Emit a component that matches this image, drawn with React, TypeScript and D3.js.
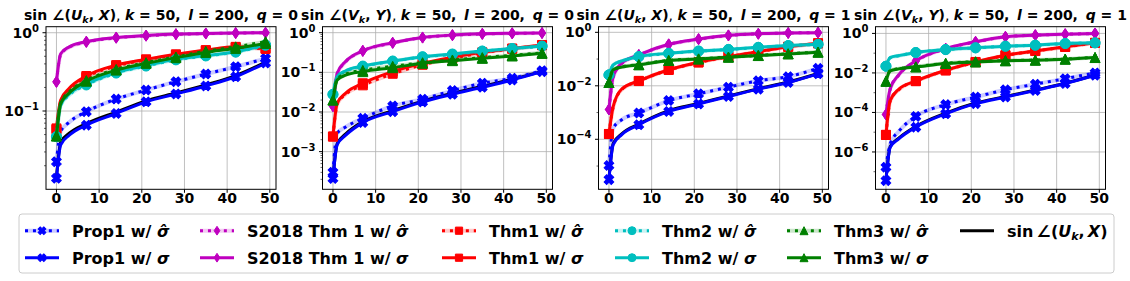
import React from 'react';
import * as d3 from 'd3';

// sample positions along the x axis (iteration index) and where markers go
const kSteps = [0, 1, 3, 7, 14, 21, 28, 35, 42, 49];
const markSteps = [0, 7, 14, 21, 28, 35, 42, 49];
const xTicks = [0, 10, 20, 30, 40, 50];

// panel 1: sin(U_k, X), q = 0
const p1Prop1Hat = [0.0225, 0.055, 0.072, 0.098, 0.142, 0.185, 0.237, 0.297, 0.368, 0.47];
const p1Prop1 = [0.0138, 0.037, 0.049, 0.066, 0.093, 0.131, 0.165, 0.209, 0.274, 0.41];
const p1S2018Hat = [0.235, 0.53, 0.65, 0.76, 0.86, 0.915, 0.955, 0.975, 0.99, 1.0];
const p1S2018 = [0.237, 0.54, 0.66, 0.77, 0.87, 0.92, 0.96, 0.98, 0.99, 1.0];
const p1Thm1Hat = [0.058, 0.13, 0.185, 0.27, 0.375, 0.45, 0.52, 0.59, 0.65, 0.62];
const p1Thm1 = [0.06, 0.138, 0.195, 0.28, 0.386, 0.457, 0.53, 0.6, 0.66, 0.63];
const p1Thm2Hat = [0.047, 0.118, 0.16, 0.215, 0.305, 0.375, 0.45, 0.505, 0.565, 0.69];
const p1Thm2 = [0.047, 0.12, 0.165, 0.22, 0.31, 0.38, 0.457, 0.51, 0.57, 0.7];
const p1Thm3Hat = [0.048, 0.127, 0.175, 0.245, 0.34, 0.415, 0.49, 0.58, 0.66, 0.77];
const p1Thm3 = [0.048, 0.125, 0.17, 0.24, 0.333, 0.406, 0.48, 0.56, 0.63, 0.73];
const p1Sin = [0.0142, 0.04, 0.052, 0.069, 0.097, 0.135, 0.17, 0.216, 0.283, 0.42];

// panel 2: sin(V_k, Y), q = 0
const p2Prop1Hat = [0.0003, 0.0029, 0.0042, 0.0069, 0.0142, 0.021, 0.0346, 0.053, 0.071, 0.11];
const p2Prop1 = [0.00021, 0.0015, 0.0026, 0.0054, 0.0102, 0.018, 0.028, 0.042, 0.064, 0.104];
const p2S2018Hat = [0.014, 0.092, 0.185, 0.345, 0.55, 0.75, 0.86, 0.93, 0.96, 0.98];
const p2S2018 = [0.014, 0.094, 0.19, 0.35, 0.56, 0.76, 0.87, 0.94, 0.97, 0.98];
const p2Thm1Hat = [0.0024, 0.016, 0.028, 0.047, 0.092, 0.155, 0.225, 0.31, 0.39, 0.48];
const p2Thm1 = [0.0024, 0.0166, 0.03, 0.053, 0.104, 0.169, 0.239, 0.32, 0.4, 0.49];
const p2Thm2Hat = [0.0275, 0.076, 0.107, 0.14, 0.19, 0.243, 0.285, 0.34, 0.395, 0.455];
const p2Thm2 = [0.0279, 0.078, 0.11, 0.144, 0.193, 0.248, 0.29, 0.345, 0.4, 0.46];
const p2Thm3Hat = [0.02, 0.068, 0.09, 0.112, 0.142, 0.175, 0.205, 0.235, 0.27, 0.31];
const p2Thm3 = [0.02, 0.064, 0.085, 0.104, 0.131, 0.169, 0.197, 0.225, 0.258, 0.3];
const p2Sin = [0.00022, 0.0016, 0.0028, 0.0057, 0.0108, 0.0188, 0.0295, 0.0445, 0.067, 0.106];

// panel 3: sin(U_k, X), q = 1
const p3Prop1Hat = [1.05e-5, 2.6e-4, 5.4e-4, 9.6e-4, 0.0028, 0.005, 0.0089, 0.0154, 0.022, 0.045];
const p3Prop1 = [3.1e-6, 6.3e-5, 1.5e-4, 3.5e-4, 0.0011, 0.0021, 0.004, 0.0075, 0.0133, 0.028];
const p3S2018Hat = [0.0013, 0.021, 0.068, 0.14, 0.35, 0.55, 0.76, 0.88, 0.94, 0.97];
const p3S2018 = [0.0013, 0.022, 0.07, 0.143, 0.357, 0.56, 0.77, 0.89, 0.95, 0.97];
const p3Thm1Hat = [0.000158, 0.0016, 0.0072, 0.015, 0.039, 0.074, 0.122, 0.188, 0.285, 0.385];
const p3Thm1 = [0.000158, 0.0017, 0.0076, 0.0153, 0.04, 0.076, 0.124, 0.19, 0.29, 0.39];
const p3Thm2Hat = [0.0255, 0.06, 0.084, 0.122, 0.163, 0.198, 0.228, 0.273, 0.317, 0.353];
const p3Thm2 = [0.0257, 0.061, 0.085, 0.124, 0.165, 0.2, 0.23, 0.276, 0.32, 0.357];
const p3Thm3Hat = [0.0133, 0.041, 0.051, 0.062, 0.089, 0.102, 0.119, 0.137, 0.158, 0.182];
const p3Thm3 = [0.0133, 0.04, 0.05, 0.061, 0.088, 0.1, 0.117, 0.135, 0.156, 0.18];
const p3Sin = [3.3e-6, 7e-5, 1.6e-4, 3.7e-4, 0.00118, 0.0022, 0.0042, 0.0078, 0.0138, 0.029];

// panel 4: sin(V_k, Y), q = 1
const p4Prop1Hat = [1.7e-7, 2.6e-6, 1.1e-5, 6.3e-5, 2.5e-4, 6e-4, 0.0014, 0.0027, 0.0051, 0.01];
const p4Prop1 = [3.5e-8, 1.7e-6, 4.6e-6, 1.8e-5, 8.5e-5, 2.8e-4, 6e-4, 0.0013, 0.0029, 0.0076];
const p4S2018Hat = [7.9e-5, 1.5e-3, 0.0078, 0.04, 0.165, 0.37, 0.67, 0.81, 0.91, 0.99];
const p4S2018 = [7.9e-5, 1.6e-3, 0.008, 0.041, 0.17, 0.38, 0.68, 0.82, 0.92, 1.0];
const p4Thm1Hat = [7.3e-6, 3.8e-4, 0.0014, 0.0038, 0.0133, 0.035, 0.077, 0.128, 0.205, 0.33];
const p4Thm1 = [7.3e-6, 4e-4, 0.0015, 0.0039, 0.0137, 0.036, 0.079, 0.13, 0.21, 0.335];
const p4Thm2Hat = [0.0218, 0.059, 0.074, 0.107, 0.151, 0.185, 0.224, 0.252, 0.306, 0.331];
const p4Thm2 = [0.022, 0.06, 0.075, 0.108, 0.153, 0.187, 0.227, 0.255, 0.31, 0.335];
const p4Thm3Hat = [0.0038, 0.013, 0.0165, 0.0205, 0.031, 0.037, 0.042, 0.045, 0.0505, 0.061];
const p4Thm3 = [0.0038, 0.0126, 0.016, 0.02, 0.03, 0.036, 0.041, 0.044, 0.0495, 0.06];
const p4Sin = [4e-8, 1.9e-6, 5e-6, 1.95e-5, 9.2e-5, 3e-4, 6.4e-4, 0.00138, 0.003, 0.0079];

const methodNames = ['Prop1', 'S2018 Thm 1', 'Thm1', 'Thm2', 'Thm3'];
const methodColors = ['#0000ff', '#bf00bf', '#ff0000', '#00bfbf', '#008000'];
const methodMarkers = ['X', 'd', 's', 'o', '^'];

const FONT = 'DejaVu Sans, sans-serif';
const W = 1130;
const H = 281;
const plotTop = 26.7;
const plotBottom = 189.3;
const plotW = 230;

const panels = [
  { left: 46, sub: 'U', mat: 'X', q: 0, yExp: [-2.0, 0.077], major: [-1, 0], minorDecades: [-2, -1], minorExps: [],
    series: [[p1Prop1Hat, p1Prop1], [p1S2018Hat, p1S2018], [p1Thm1Hat, p1Thm1], [p1Thm2Hat, p1Thm2], [p1Thm3Hat, p1Thm3]], sin: p1Sin },
  { left: 322.5, sub: 'V', mat: 'Y', q: 0, yExp: [-3.95, 0.151], major: [-3, -2, -1, 0], minorDecades: [-4, -3, -2, -1], minorExps: [],
    series: [[p2Prop1Hat, p2Prop1], [p2S2018Hat, p2S2018], [p2Thm1Hat, p2Thm1], [p2Thm2Hat, p2Thm2], [p2Thm3Hat, p2Thm3]], sin: p2Sin },
  { left: 598.5, sub: 'U', mat: 'X', q: 1, yExp: [-5.87, 0.21], major: [-4, -2, 0], minorDecades: [], minorExps: [-5, -3, -1],
    series: [[p3Prop1Hat, p3Prop1], [p3S2018Hat, p3S2018], [p3Thm1Hat, p3Thm1], [p3Thm2Hat, p3Thm2], [p3Thm3Hat, p3Thm3]], sin: p3Sin },
  { left: 875.5, sub: 'V', mat: 'Y', q: 1, yExp: [-7.89, 0.34], major: [-6, -4, -2, 0], minorDecades: [], minorExps: [-7, -5, -3, -1],
    series: [[p4Prop1Hat, p4Prop1], [p4S2018Hat, p4S2018], [p4Thm1Hat, p4Thm1], [p4Thm2Hat, p4Thm2], [p4Thm3Hat, p4Thm3]], sin: p4Sin },
];

const markerPath = (kind: string, s: number) => {
  const h = s / 2;
  if (kind === 'X') {
    const a = h * 0.36;
    // plus shape, rotated 45deg when drawn
    return `M${-a},${-h}H${a}V${-a}H${h}V${a}H${a}V${h}H${-a}V${a}H${-h}V${-a}H${-a}Z`;
  }
  if (kind === 'd') return `M0,${-h * 1.1}L${h * 0.72},0L0,${h * 1.1}L${-h * 0.72},0Z`;
  if (kind === 's') return `M${-h * 0.9},${-h * 0.9}H${h * 0.9}V${h * 0.9}H${-h * 0.9}Z`;
  if (kind === '^') return `M0,${-h}L${h},${h}L${-h},${h}Z`;
  return d3.arc()({ innerRadius: 0, outerRadius: h, startAngle: 0, endAngle: 2 * Math.PI }) as string;
};

const Marker = ({ kind, x, y, color, s }: any) => (
  <path
    d={markerPath(kind, s)}
    transform={`translate(${x},${y})${kind === 'X' ? ' rotate(45)' : ''}`}
    fill={color}
    stroke={color}
    strokeWidth={1}
  />
);

const Pow = ({ e, x, y, anchor }: any) => (
  <text x={x} y={y} textAnchor={anchor} fontFamily={FONT} fontWeight="bold" fontSize={14}>
    10<tspan dy={-6} fontSize={10}>{e < 0 ? `\u2212${-e}` : `${e}`}</tspan>
  </text>
);

const Title = ({ cx, sub, mat, q }: any) => (
  <text x={cx} y={20} textAnchor="middle" fontFamily={FONT} fontWeight="bold" fontSize={14} style={{ whiteSpace: 'pre' }}>
    <tspan>sin ∠(</tspan>
    <tspan fontStyle="italic">{sub}</tspan>
    <tspan fontStyle="italic" fontSize={9.5} dy={3}>k</tspan>
    <tspan dy={-3}>, </tspan>
    <tspan fontStyle="italic">{mat}</tspan>
    <tspan>)</tspan>
    <tspan fontWeight="normal">, </tspan>
    <tspan fontStyle="italic">k</tspan>
    <tspan>{' = 50, \u2009'}</tspan>
    <tspan fontStyle="italic">l</tspan>
    <tspan>{' = 200, \u2009'}</tspan>
    <tspan fontStyle="italic">q</tspan>
    <tspan>{` = ${q}`}</tspan>
  </text>
);

const Panel = ({ p, idx }: any) => {
  const x = d3.scaleLinear().domain([-2.45, 51.45]).range([p.left, p.left + plotW]);
  const y = d3.scaleLog().domain([10 ** p.yExp[0], 10 ** p.yExp[1]]).range([plotBottom, plotTop]);
  const line = d3.line<number>()
    .x((_, i) => x(kSteps[i]))
    .y((v) => y(v))
    .curve(d3.curveMonotoneX);
  const clipId = `clip${idx}`;
  const minor: number[] = [];
  p.minorDecades.forEach((e: number) => {
    for (let m = 2; m < 10; m++) minor.push(m * 10 ** e);
  });
  p.minorExps.forEach((e: number) => minor.push(10 ** e));
  const [y0, y1] = y.domain();
  const minorIn = minor.filter((v) => v >= y0 && v <= y1);
  const markIdx = markSteps.map((k) => kSteps.indexOf(k));

  return (
    <g>
      <defs>
        <clipPath id={clipId}>
          <rect x={p.left} y={plotTop} width={plotW} height={plotBottom - plotTop} />
        </clipPath>
      </defs>
      {/* grid */}
      {xTicks.map((t) => (
        <line key={`gx${t}`} x1={x(t)} x2={x(t)} y1={plotTop} y2={plotBottom} stroke="#b0b0b0" strokeWidth={0.8} />
      ))}
      {p.major.map((e: number) => (
        <line key={`gy${e}`} x1={p.left} x2={p.left + plotW} y1={y(10 ** e)} y2={y(10 ** e)} stroke="#b0b0b0" strokeWidth={0.8} />
      ))}
      <g clipPath={`url(#${clipId})`}>
        <path d={line(p.sin) as string} fill="none" stroke="#000" strokeWidth={3} />
        {p.series.map((pair: number[][], si: number) => {
          const c = methodColors[si];
          return (
            <g key={si}>
              <path d={line(pair[0]) as string} fill="none" stroke={c} strokeOpacity={0.2} strokeWidth={4} />
              <path d={line(pair[0]) as string} fill="none" stroke={c} strokeWidth={3} strokeDasharray="3,4.95" />
              {markIdx.map((i) => (
                <Marker key={`h${i}`} kind={methodMarkers[si]} x={x(kSteps[i])} y={y(pair[0][i])} color={c} s={10} />
              ))}
              <path d={line(pair[1]) as string} fill="none" stroke={c} strokeWidth={3} />
              {markIdx.map((i) => (
                <Marker key={`s${i}`} kind={methodMarkers[si]} x={x(kSteps[i])} y={y(pair[1][i])} color={c} s={10} />
              ))}
            </g>
          );
        })}
      </g>
      {/* frame */}
      <rect x={p.left} y={plotTop} width={plotW} height={plotBottom - plotTop} fill="none" stroke="#000" strokeWidth={1} />
      {/* x ticks */}
      {xTicks.map((t) => (
        <g key={`tx${t}`}>
          <line x1={x(t)} x2={x(t)} y1={plotBottom} y2={plotBottom + 3.5} stroke="#000" />
          <text x={x(t)} y={203} textAnchor="middle" fontFamily={FONT} fontWeight="bold" fontSize={14}>{t}</text>
        </g>
      ))}
      {/* y ticks */}
      {p.major.map((e: number) => (
        <g key={`ty${e}`}>
          <line x1={p.left - 3.5} x2={p.left} y1={y(10 ** e)} y2={y(10 ** e)} stroke="#000" />
          <Pow e={e} x={p.left - 7} y={y(10 ** e) + 5} anchor="end" />
        </g>
      ))}
      {minorIn.map((v, i) => (
        <line key={`mt${i}`} x1={p.left - 2} x2={p.left} y1={y(v)} y2={y(v)} stroke="#000" strokeWidth={0.6} />
      ))}
      <Title cx={p.left + plotW / 2} sub={p.sub} mat={p.mat} q={p.q} />
    </g>
  );
};

const legendHandleX = [25, 200, 442, 615, 787, 960];
const legendRowY = [230.7, 257.7];

const HatSigma = () => (
  <tspan fontStyle="italic">{'σ\u0302'}</tspan>
);

const Legend = () => (
  <g>
    <rect x={19} y={214} width={1095} height={59} rx={3} fill="#fff" fillOpacity={0.8} stroke="#cccccc" strokeWidth={1} />
    {methodNames.map((name, mi) => {
      const hx = legendHandleX[mi];
      const c = methodColors[mi];
      return (
        <g key={name}>
          {[0, 1].map((row) => {
            const yy = legendRowY[row];
            return (
              <g key={row}>
                {row === 0 && (
                  <line x1={hx} x2={hx + 34} y1={yy} y2={yy} stroke={c} strokeOpacity={0.2} strokeWidth={4} />
                )}
                <line x1={hx} x2={hx + 34} y1={yy} y2={yy} stroke={c} strokeWidth={3} strokeDasharray={row === 0 ? '3,4.95' : undefined} />
                <Marker kind={methodMarkers[mi]} x={hx + 17} y={yy} color={c} s={8} />
                <text x={hx + 47} y={yy + 6} fontFamily={FONT} fontWeight="bold" fontSize={16}>
                  {`${name} w/ `}
                  {row === 0 ? <HatSigma /> : <tspan fontStyle="italic">σ</tspan>}
                </text>
              </g>
            );
          })}
        </g>
      );
    })}
    <line x1={960} x2={994} y1={legendRowY[0]} y2={legendRowY[0]} stroke="#000" strokeWidth={3} />
    <text x={1007} y={legendRowY[0] + 6} fontFamily={FONT} fontWeight="bold" fontSize={16} style={{ whiteSpace: 'pre' }}>
      <tspan>{'sin\u2009∠('}</tspan>
      <tspan fontStyle="italic">U</tspan>
      <tspan fontStyle="italic" fontSize={11} dy={3}>k</tspan>
      <tspan dy={-3}>,</tspan>
      <tspan fontStyle="italic">{'\u2009X'}</tspan>
      <tspan>)</tspan>
    </text>
  </g>
);

const App = () => (
  <svg width={W} height={H} style={{ position: 'absolute', left: 0, top: 0, background: '#fff' }}>
    {panels.map((p, i) => (
      <Panel key={i} p={p} idx={i} />
    ))}
    <Legend />
  </svg>
);

export default App;
